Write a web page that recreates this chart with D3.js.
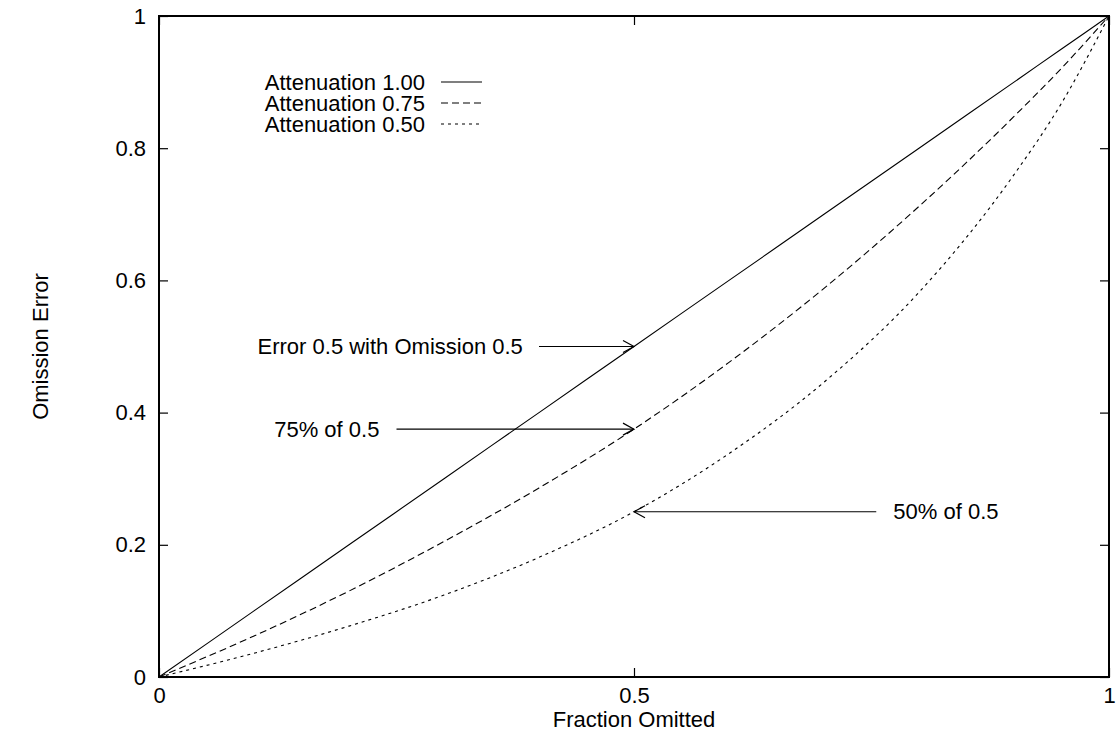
<!DOCTYPE html>
<html>
<head>
<meta charset="utf-8">
<script src="https://cdn.jsdelivr.net/npm/d3@7"></script>
<style>
  body { margin: 0; background: #fff; }
  svg text { font-family: "Liberation Sans", Arial, Helvetica, sans-serif; fill: #000; }
</style>
</head>
<body>
<svg id="chart" width="1117" height="733"></svg>
<script>
// fraction omitted (x) and omission error for each attenuation
var fraction = [0, 0.1, 0.2, 0.3, 0.4, 0.5, 0.6, 0.7, 0.8, 0.9, 0.95, 1];
var att100 = [0, 0.1, 0.2, 0.3, 0.4, 0.5, 0.6, 0.7, 0.8, 0.9, 0.95, 1];
var att075 = [0, 0.062, 0.130, 0.205, 0.286, 0.375, 0.476, 0.588, 0.712, 0.848, 0.921, 1];
var att050 = [0, 0.036, 0.077, 0.124, 0.181, 0.25, 0.338, 0.446, 0.582, 0.76, 0.868, 1];
var seriesNames = ['Attenuation 1.00', 'Attenuation 0.75', 'Attenuation 0.50'];
var seriesDash = [null, '7,4', '3,4'];

var xTicks = [0, 0.5, 1];
var yTicks = [0, 0.2, 0.4, 0.6, 0.8, 1];

// arrows: label, label x, text anchor, arrow from (x0,y) to (x1,y)
var arrowLabels = ['Error 0.5 with Omission 0.5', '75% of 0.5', '50% of 0.5'];
var arrowFromX = [0.40, 0.25, 0.755];
var arrowToX = [0.5, 0.5, 0.5];
var arrowY = [0.5, 0.375, 0.25];
var labelX = [0.383, 0.232, 0.773];
var labelAnchor = ['end', 'end', 'start'];

var margin = {left: 159, top: 16, right: 8, bottom: 56};
var fontSize = '22px';
var svg = d3.select('#chart');
var W = +svg.attr('width'), H = +svg.attr('height');
var w = W - margin.left - margin.right, h = H - margin.top - margin.bottom;

var x = d3.scaleLinear().domain([0, 1]).range([0, w]);
var y = d3.scaleLinear().domain([0, 1]).range([h, 0]);

var g = svg.append('g').attr('transform', 'translate(' + margin.left + ',' + margin.top + ')');

// ticks, drawn inward on all four sides like gnuplot
var tickLen = 9;
var fmt = function (d) { return String(d); };

g.append('g').call(d3.axisBottom(x).tickValues(xTicks).tickSize(-tickLen).tickPadding(10).tickFormat(fmt))
	.attr('transform', 'translate(0,' + h + ')')
	.call(function (a) { a.select('.domain').remove(); a.selectAll('text').style('font-size', fontSize); });
g.append('g').call(d3.axisTop(x).tickValues(xTicks).tickSize(-tickLen).tickFormat(''))
	.call(function (a) { a.select('.domain').remove(); });
g.append('g').call(d3.axisLeft(y).tickValues(yTicks).tickSize(-tickLen).tickPadding(13).tickFormat(fmt))
	.call(function (a) { a.select('.domain').remove(); a.selectAll('text').style('font-size', fontSize); });
g.append('g').call(d3.axisRight(y).tickValues(yTicks).tickSize(-tickLen).tickFormat(''))
	.attr('transform', 'translate(' + w + ',0)')
	.call(function (a) { a.select('.domain').remove(); });
g.selectAll('.tick line').style('stroke', '#000').style('stroke-width', 1.2);

// frame
g.append('rect').attr('width', w).attr('height', h)
	.style('fill', 'none').style('stroke', '#000').style('stroke-width', 2);

// curves
var line = d3.line().x(function (d) { return x(d[0]); }).y(function (d) { return y(d[1]); })
	.curve(d3.curveMonotoneX);
[att100, att075, att050].forEach(function (vals, idx) {
	g.append('path')
		.datum(fraction.map(function (f, i) { return [f, vals[i]]; }))
		.attr('d', line)
		.style('fill', 'none').style('stroke', '#000').style('stroke-width', 1.1)
		.style('stroke-dasharray', seriesDash[idx]);
});

// legend
var legend = g.append('g');
seriesNames.forEach(function (name, idx) {
	var ly = 66 + idx * 21;
	legend.append('text').attr('x', 266).attr('y', ly).attr('dy', '0.35em')
		.attr('text-anchor', 'end').style('font-size', fontSize).text(name);
	legend.append('line').attr('x1', 282).attr('x2', 323).attr('y1', ly).attr('y2', ly)
		.style('stroke', '#000').style('stroke-width', 1.1).style('stroke-dasharray', seriesDash[idx]);
});

// annotation arrows
arrowLabels.forEach(function (lab, idx) {
	var x0 = x(arrowFromX[idx]), x1 = x(arrowToX[idx]), yy = y(arrowY[idx]);
	var dir = x1 > x0 ? 1 : -1;
	g.append('line').attr('x1', x0).attr('x2', x1).attr('y1', yy).attr('y2', yy)
		.style('stroke', '#000').style('stroke-width', 1.2);
	g.append('path')
		.attr('d', 'M' + (x1 - dir * 11) + ',' + (yy - 6) + 'L' + x1 + ',' + yy + 'L' + (x1 - dir * 11) + ',' + (yy + 6))
		.style('fill', 'none').style('stroke', '#000').style('stroke-width', 1.2);
	g.append('text').attr('x', x(labelX[idx])).attr('y', yy).attr('dy', '0.35em')
		.attr('text-anchor', labelAnchor[idx]).style('font-size', fontSize).text(lab);
});

// axis titles
svg.append('text').attr('x', margin.left + w / 2).attr('y', H - 6)
	.attr('text-anchor', 'middle').style('font-size', fontSize).text('Fraction Omitted');
svg.append('text').attr('transform', 'translate(48,' + (margin.top + h / 2) + ') rotate(-90)')
	.attr('text-anchor', 'middle').style('font-size', fontSize).text('Omission Error');
</script>
</body>
</html>
